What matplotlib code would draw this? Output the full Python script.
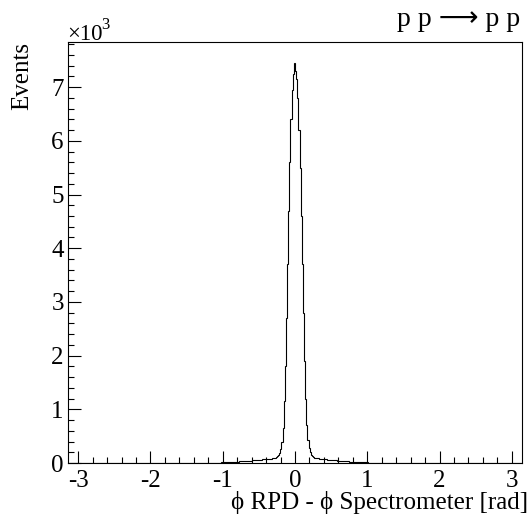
import numpy as np
import matplotlib
matplotlib.use("Agg")
import matplotlib.pyplot as plt
from matplotlib.ticker import MultipleLocator, FixedLocator, FixedFormatter

plt.rcParams['font.family'] = ['Liberation Serif', 'DejaVu Serif']

# ---- data (400 bins over [-pi, pi]) ----
n_bins = 400
far_left = [0] * 111
left_tail_inner_to_outer = [82, 79, 80, 75, 74, 72, 68, 67, 66, 62,
                            61, 61, 57, 56, 52, 52, 48, 47, 46, 42,
                            41, 40, 36, 35, 34, 31, 30, 28, 28, 25,
                            24, 22, 22, 20, 19, 18, 18, 16, 15, 14,
                            13, 13, 11, 10, 10, 9, 8, 8, 7, 6,
                            6, 5, 5, 5, 4, 4, 3, 3, 3, 2,
                            3, 2, 2, 1, 1, 2, 1, 0, 1]
core_left_inner_to_outer = [7450, 7250, 6950, 6400, 5600, 4700, 3700, 2700, 1800, 1150,
                            650, 400, 260, 190, 150, 125, 110, 100, 92, 86]
core_right_inner_to_outer = [7300, 7150, 6800, 6200, 5500, 4600, 3700, 2800, 1900, 1200,
                             700, 430, 280, 200, 155, 130, 112, 100, 93, 85]
right_tail_inner_to_outer = [84, 82, 79, 77, 73, 72, 69, 66, 64, 63,
                             60, 59, 57, 54, 54, 50, 49, 46, 45, 44,
                             40, 39, 38, 34, 33, 32, 29, 29, 26, 26,
                             23, 23, 21, 20, 18, 18, 16, 16, 14, 14,
                             12, 12, 11, 10, 9, 9, 8, 8, 7, 6,
                             6, 6, 5, 4, 4, 4, 3, 3, 2, 3,
                             2, 2, 1, 2, 1, 1, 1, 1, 0]
far_right = [0] * 111

counts = np.array(far_left + left_tail_inner_to_outer[::-1] + core_left_inner_to_outer[::-1]
                  + core_right_inner_to_outer + right_tail_inner_to_outer + far_right, dtype=float)
edges = np.linspace(-np.pi, np.pi, n_bins + 1)

x_ticks = [-3, -2, -1, 0, 1, 2, 3]
x_tick_labels = ["-3", "-2", "-1", "0", "1", "2", "3"]
y_ticks = [0, 1000, 2000, 3000, 4000, 5000, 6000, 7000]
y_tick_labels = ["0", "1", "2", "3", "4", "5", "6", "7"]

# ---- figure ----
W, H = 531, 519
fig = plt.figure(figsize=(W / 100, H / 100), dpi=100)
L, R, T, B = 68, 522, 42, 463
ax = fig.add_axes([L / W, 1 - B / H, (R - L) / W, (B - T) / H])

ax.stairs(counts, edges, color='black', linewidth=0.8)

ax.set_xlim(-np.pi, np.pi)
ax.set_ylim(0, 7840)

ax.xaxis.set_major_locator(FixedLocator(x_ticks))
ax.xaxis.set_major_formatter(FixedFormatter(x_tick_labels))
ax.xaxis.set_minor_locator(MultipleLocator(0.2))
ax.yaxis.set_major_locator(FixedLocator(y_ticks))
ax.yaxis.set_major_formatter(FixedFormatter(y_tick_labels))
ax.yaxis.set_minor_locator(MultipleLocator(200))

ax.tick_params(which='both', direction='in', top=False, right=False, width=0.8, labelsize=18)
ax.tick_params(which='major', length=9)
ax.tick_params(which='minor', length=4.5)
ax.tick_params(axis='x', which='major', pad=5)
ax.tick_params(axis='y', which='major', pad=3)
for s in ax.spines.values():
    s.set_linewidth(0.8)

ax.set_xlabel("\u03d5 RPD - \u03d5 Spectrometer [rad]", fontsize=18, loc='right')
ax.xaxis.set_label_coords((528 - L) / (R - L), -(509 - B) / (B - T))
ax.xaxis.label.set_verticalalignment('baseline')
ax.set_ylabel("Events", fontsize=18, loc='top')
ax.yaxis.set_label_coords((33 - L) / (R - L), 1.0)

fig.text(L / W - 0.002, 1 - 40 / H, "\u00d710", fontsize=16.5, ha='left', va='baseline')
fig.text(101 / W, 1 - 29 / H, "3", fontsize=12, ha='left', va='baseline')
fig.text(520 / W, 1 - 26 / H, "p p \u27f6 p p", fontsize=20, ha='right', va='baseline',
         family=['Liberation Serif', 'DejaVu Sans'])

fig.savefig("out.png", dpi=100)
